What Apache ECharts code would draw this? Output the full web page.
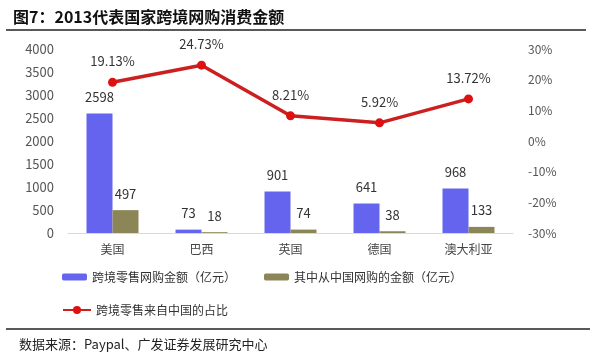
<!DOCTYPE html>
<html><head><meta charset="utf-8">
<script src="https://cdn.jsdelivr.net/npm/echarts@6/dist/echarts.min.js"></script>
<style>html,body{margin:0;padding:0;background:#fff}#c{width:590px;height:361px}</style>
</head><body><div id="c"></div>
<script>
const categories = ['美国', '巴西', '英国', '德国', '澳大利亚'];
const totalSales = [2598, 73, 901, 641, 968];
const chinaSales = [497, 18, 74, 38, 133];
const chinaShare = [19.13, 24.73, 8.21, 5.92, 13.72];
const leftMin = 0, leftMax = 4000, leftStep = 500;
const rightMin = -30, rightMax = 30, rightStep = 10;

const font = '"Noto Sans CJK SC", "Noto Sans", sans-serif';
const chart = echarts.init(document.getElementById('c'));
chart.setOption({
  animation: false,
  textStyle: { fontFamily: font },
  title: [
    { text: '图7：2013代表国家跨境网购消费金额', left: 8, top: 4,
      textStyle: { fontSize: 16, fontWeight: 'bold', color: '#111', fontFamily: font } },
    { text: '数据来源：Paypal、广发证券发展研究中心', left: 14, top: 333,
      textStyle: { fontSize: 13, fontWeight: 'normal', color: '#222', fontFamily: font } }
  ],
  graphic: [
    { type: 'line', shape: { x1: 6, y1: 30, x2: 586, y2: 30 }, style: { stroke: '#222', lineWidth: 1.5 } },
    { type: 'line', shape: { x1: 6, y1: 329, x2: 590, y2: 329 }, style: { stroke: '#222', lineWidth: 1.5 } }
  ],
  legend: [
    { data: ['跨境零售网购金额（亿元）', '其中从中国网购的金额（亿元）'], left: 57, top: 266,
      itemWidth: 25, itemHeight: 7, itemGap: 28,
      textStyle: { fontSize: 12, color: '#333', fontFamily: font } },
    { data: ['跨境零售来自中国的占比'], left: 57, top: 299, itemWidth: 28, itemHeight: 10,
      textStyle: { fontSize: 12, color: '#333', fontFamily: font } }
  ],
  grid: { left: 68, right: 77, top: 49, bottom: 128 },
  xAxis: {
    type: 'category', data: categories,
    axisLine: { lineStyle: { color: '#d9d9d9' } },
    axisTick: { show: false },
    axisLabel: { color: '#444', fontSize: 12, margin: 10 }
  },
  yAxis: [
    { type: 'value', min: leftMin, max: leftMax, interval: leftStep,
      splitLine: { show: false }, axisLine: { show: false }, axisTick: { show: false },
      axisLabel: { color: '#555', fontSize: 13, margin: 14, formatter: v => String(v) } },
    { type: 'value', min: rightMin, max: rightMax, interval: rightStep, position: 'right',
      splitLine: { show: false }, axisLine: { show: false }, axisTick: { show: false },
      axisLabel: { color: '#555', fontSize: 12, margin: 15, formatter: v => v + '%' } }
  ],
  series: [
    { name: '跨境零售网购金额（亿元）', type: 'bar', data: totalSales, barWidth: 26, barGap: '0%',
      itemStyle: { color: '#6464ee' },
      label: { show: true, position: 'top', distance: 10, color: '#333', fontSize: 13 } },
    { name: '其中从中国网购的金额（亿元）', type: 'bar', data: chinaSales, barWidth: 26, barGap: '0%',
      itemStyle: { color: '#8c8558' },
      label: { show: true, position: 'top', distance: 10, color: '#333', fontSize: 13 } },
    { name: '跨境零售来自中国的占比', type: 'line', yAxisIndex: 1, data: chinaShare,
      symbol: 'circle', symbolSize: 9,
      lineStyle: { color: '#cc1f1f', width: 3.5 },
      itemStyle: { color: '#dd1111' },
      label: { show: true, position: 'top', distance: 10, color: '#333', fontSize: 13,
        formatter: p => p.value.toFixed(2) + '%' } }
  ]
});
</script></body></html>
